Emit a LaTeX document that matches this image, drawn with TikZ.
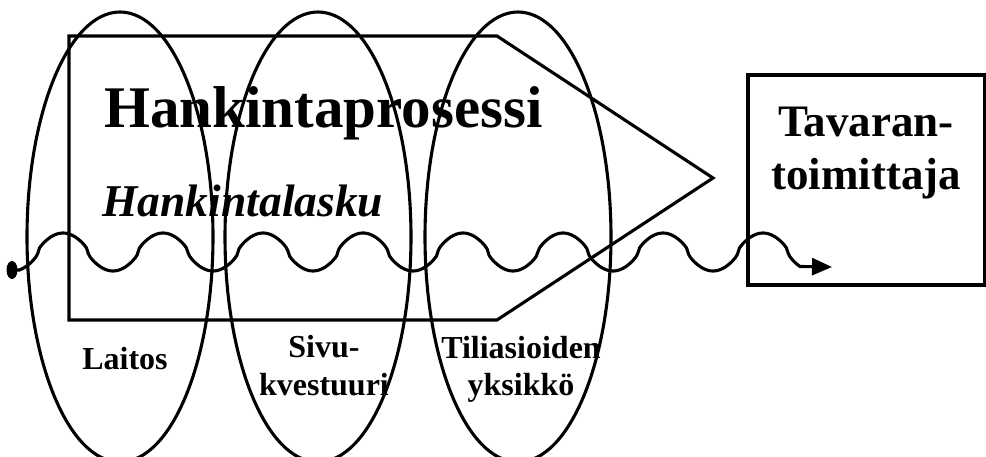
\documentclass[tikz,border=0pt]{standalone}
\usepackage{fontspec}
\setmainfont{Liberation Serif}
\usetikzlibrary{arrows.meta,shapes.geometric}
\begin{document}
\begin{tikzpicture}[x=1pt,y=-1pt,line width=3.1pt,line join=miter,
  oval/.style={draw,ellipse,inner sep=0pt,outer sep=0pt,minimum width=186pt,minimum height=450pt},
  lbl/.style={inner sep=0pt,anchor=base,font=\bfseries\fontsize{32}{39}\selectfont},
  bigtitle/.style={inner sep=0pt,anchor=base west,font=\bfseries\fontsize{59}{62}\selectfont},
  subtitle/.style={inner sep=0pt,anchor=base west,font=\bfseries\itshape\fontsize{45.5}{48}\selectfont},
  boxlbl/.style={inner sep=0pt,anchor=base,font=\bfseries\fontsize{45}{53}\selectfont}]
\useasboundingbox (0,0) rectangle (986,457);
% process arrow (pentagon)
\draw (69,36) -- (497,36) -- (713,178) -- (497,320) -- (69,320) -- cycle;
% ellipses
\node[oval] (e1) at (120,237) {};
\node[oval] (e2) at (318,237) {};
\node[oval] (e3) at (518,237) {};
% supplier box
\node[draw,inner sep=0pt,minimum width=237pt,minimum height=210pt] (box) at (866.5,180) {};
% texts
\node[bigtitle] (title) at (103,128) {Hankintaprosessi};
\node[subtitle] (sub) at (101,217) {Hankintalasku};
\node[lbl] (laitos) at (125,370) {Laitos};
\node[lbl] (sivu) at (324,357) {\def\arraystretch{1}\begin{tabular}[t]{@{}c@{}}Sivu-\\kvestuuri\end{tabular}};
\node[lbl,font=\bfseries\fontsize{32}{37}\selectfont] (tili) at (521,358) {\begin{tabular}[t]{@{}c@{}}Tiliasioiden\\yksikkö\end{tabular}};
\node[boxlbl] (tav) at (866,137) {\begin{tabular}[t]{@{}c@{}}Tavaran-\\toimittaja\end{tabular}};
% wavy flow
\node[fill,ellipse,inner sep=0pt,minimum width=11pt,minimum height=18pt] (dot) at (12,270) {};
\coordinate (flowend) at (832,267);
\draw[line join=round,-{Triangle[length=20pt,width=17pt]}] (dot.center) -- (20,270)
  plot[domain=20:800,samples=400,smooth,variable=\t]
  (\t,{252-19*(0.45*cos(3.6*(\t-63))+0.55*cos(3.6*(\t-63))/(sqrt(abs(cos(3.6*(\t-63))))+0.0001))}) -- (flowend);
\end{tikzpicture}
\end{document}
